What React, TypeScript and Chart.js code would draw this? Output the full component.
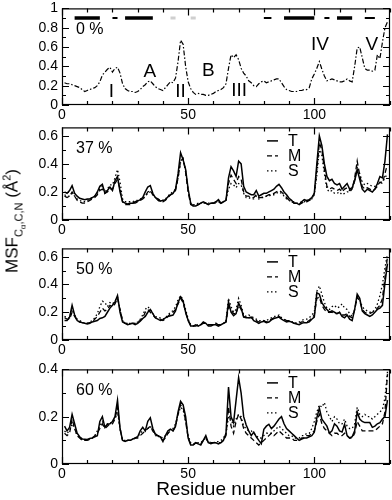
import React, { useEffect, useRef } from "react";
import { Chart, registerables } from "chart.js";

Chart.register(...registerables);

const FONT = "'Liberation Sans', Arial, Helvetica, sans-serif";
Chart.defaults.font.family = FONT;
Chart.defaults.color = "#000";

// ---------- DATA ----------
const residues: number[] = Array.from({ length: 129 }, (_, i) => i + 1);

const panelTitles = ["0 %", "37 %", "50 %", "60 %"];
const panelYMax = [1, 0.66, 0.66, 0.4];
const seriesNames = ["T", "M", "S"];
const xLabelTicks = [0, 50, 100];

// 0 % (single profile)
const msf0 = [
  0.23, 0.22, 0.22, 0.21, 0.2, 0.19, 0.18, 0.16, 0.14, 0.15,
  0.16, 0.17, 0.18, 0.2, 0.24, 0.31, 0.34, 0.37, 0.39, 0.34,
  0.38, 0.39, 0.33, 0.22, 0.17, 0.15, 0.14, 0.14, 0.13, 0.14,
  0.16, 0.19, 0.21, 0.24, 0.25, 0.22, 0.19, 0.17, 0.16, 0.15,
  0.18, 0.21, 0.24, 0.23, 0.28, 0.45, 0.67, 0.63, 0.4, 0.24,
  0.17, 0.13, 0.11, 0.12, 0.11, 0.11, 0.1, 0.1, 0.11, 0.12,
  0.14, 0.15, 0.16, 0.18, 0.22, 0.38, 0.52, 0.49, 0.52, 0.47,
  0.38, 0.33, 0.3, 0.25, 0.23, 0.2, 0.19, 0.22, 0.24, 0.25,
  0.23, 0.24, 0.25, 0.26, 0.27, 0.27, 0.23, 0.19, 0.16, 0.15,
  0.14, 0.14, 0.14, 0.15, 0.15, 0.16, 0.16, 0.18, 0.27, 0.32,
  0.38, 0.45, 0.37, 0.3, 0.25, 0.26, 0.27, 0.26, 0.25, 0.24,
  0.24, 0.25, 0.27, 0.25, 0.24, 0.4, 0.59, 0.6, 0.49, 0.38,
  0.36, 0.36, 0.35, 0.36, 0.52, 0.48, 0.65, 0.8, 0.86,
];

// 37 %
const msf37T = [
  0.2, 0.19, 0.21, 0.245, 0.19, 0.17, 0.155, 0.15, 0.145, 0.15,
  0.15, 0.16, 0.17, 0.2, 0.24, 0.255, 0.19, 0.21, 0.235, 0.21,
  0.28, 0.31, 0.2, 0.13, 0.12, 0.115, 0.12, 0.12, 0.13, 0.135,
  0.145, 0.16, 0.2, 0.235, 0.245, 0.19, 0.16, 0.15, 0.135, 0.14,
  0.145, 0.165, 0.18, 0.19, 0.22, 0.33, 0.48, 0.43, 0.36, 0.22,
  0.12, 0.1, 0.1, 0.11, 0.12, 0.13, 0.12, 0.11, 0.12, 0.12,
  0.13, 0.145, 0.12, 0.13, 0.14, 0.3, 0.38, 0.35, 0.31, 0.42,
  0.4, 0.24, 0.2, 0.19, 0.18, 0.18, 0.21, 0.17, 0.18, 0.19,
  0.19, 0.2, 0.21, 0.22, 0.24, 0.255, 0.23, 0.2, 0.18, 0.155,
  0.14, 0.12, 0.12, 0.11, 0.13, 0.145, 0.14, 0.145, 0.16, 0.19,
  0.4, 0.6, 0.53, 0.4, 0.31, 0.28, 0.29, 0.26, 0.25, 0.26,
  0.22, 0.24, 0.26, 0.22, 0.23, 0.28, 0.36, 0.29, 0.22, 0.2,
  0.22, 0.21, 0.2, 0.22, 0.26, 0.31, 0.3, 0.42, 0.61,
];
const msf37M = [
  0.17, 0.16, 0.17, 0.2, 0.17, 0.14, 0.13, 0.12, 0.12, 0.13,
  0.14, 0.15, 0.16, 0.18, 0.21, 0.22, 0.19, 0.2, 0.22, 0.22,
  0.26, 0.29, 0.22, 0.13, 0.11, 0.11, 0.11, 0.12, 0.12, 0.13,
  0.14, 0.15, 0.17, 0.2, 0.21, 0.18, 0.16, 0.14, 0.13, 0.13,
  0.14, 0.16, 0.18, 0.19, 0.21, 0.3, 0.42, 0.44, 0.34, 0.2,
  0.11, 0.1, 0.1, 0.11, 0.12, 0.12, 0.12, 0.11, 0.12, 0.12,
  0.12, 0.13, 0.12, 0.13, 0.14, 0.26, 0.32, 0.29, 0.26, 0.31,
  0.29, 0.2, 0.17, 0.17, 0.16, 0.16, 0.18, 0.16, 0.16, 0.17,
  0.17, 0.18, 0.18, 0.19, 0.2, 0.21, 0.2, 0.18, 0.16, 0.14,
  0.13, 0.12, 0.12, 0.11, 0.12, 0.13, 0.13, 0.14, 0.15, 0.19,
  0.36, 0.55, 0.5, 0.36, 0.24, 0.22, 0.23, 0.22, 0.21, 0.22,
  0.2, 0.22, 0.23, 0.21, 0.22, 0.3, 0.42, 0.32, 0.24, 0.22,
  0.23, 0.22, 0.21, 0.22, 0.24, 0.27, 0.26, 0.33, 0.4,
];
const msf37S = [
  0.18, 0.17, 0.17, 0.19, 0.17, 0.15, 0.14, 0.13, 0.13, 0.14,
  0.15, 0.16, 0.17, 0.19, 0.22, 0.24, 0.2, 0.22, 0.25, 0.25,
  0.3, 0.36, 0.27, 0.15, 0.13, 0.13, 0.13, 0.13, 0.14, 0.14,
  0.15, 0.15, 0.17, 0.19, 0.2, 0.18, 0.16, 0.15, 0.14, 0.14,
  0.15, 0.17, 0.19, 0.2, 0.22, 0.3, 0.41, 0.43, 0.35, 0.21,
  0.12, 0.11, 0.11, 0.12, 0.12, 0.13, 0.12, 0.12, 0.12, 0.12,
  0.13, 0.13, 0.12, 0.13, 0.14, 0.22, 0.26, 0.25, 0.23, 0.26,
  0.25, 0.19, 0.16, 0.16, 0.15, 0.15, 0.17, 0.15, 0.16, 0.16,
  0.17, 0.17, 0.18, 0.18, 0.19, 0.2, 0.19, 0.17, 0.15, 0.14,
  0.13, 0.13, 0.12, 0.12, 0.13, 0.13, 0.14, 0.14, 0.15, 0.18,
  0.32, 0.5, 0.46, 0.33, 0.22, 0.2, 0.21, 0.19, 0.19, 0.2,
  0.18, 0.19, 0.2, 0.2, 0.22, 0.28, 0.38, 0.33, 0.27, 0.25,
  0.26, 0.25, 0.24, 0.24, 0.25, 0.27, 0.27, 0.3, 0.33,
];

// 50 %
const msf50T = [
  0.14, 0.14, 0.165, 0.25, 0.18, 0.14, 0.13, 0.125, 0.12, 0.115,
  0.12, 0.13, 0.135, 0.14, 0.155, 0.16, 0.17, 0.2, 0.23, 0.25,
  0.275, 0.32, 0.2, 0.13, 0.12, 0.11, 0.115, 0.12, 0.11, 0.12,
  0.135, 0.155, 0.17, 0.2, 0.22, 0.19, 0.16, 0.15, 0.14, 0.145,
  0.16, 0.17, 0.175, 0.18, 0.21, 0.27, 0.31, 0.28, 0.2, 0.14,
  0.1, 0.1, 0.11, 0.1, 0.11, 0.13, 0.12, 0.1, 0.1, 0.11,
  0.11, 0.1, 0.11, 0.12, 0.13, 0.275, 0.2, 0.175, 0.19, 0.265,
  0.23, 0.165, 0.16, 0.16, 0.165, 0.14, 0.13, 0.12, 0.13, 0.135,
  0.125, 0.13, 0.145, 0.155, 0.16, 0.165, 0.15, 0.14, 0.13, 0.135,
  0.13, 0.12, 0.115, 0.11, 0.12, 0.125, 0.125, 0.13, 0.15, 0.165,
  0.34, 0.33, 0.27, 0.24, 0.22, 0.2, 0.21, 0.2, 0.19, 0.2,
  0.17, 0.16, 0.18, 0.15, 0.14, 0.22, 0.33, 0.3, 0.21, 0.19,
  0.18, 0.17, 0.18, 0.2, 0.22, 0.23, 0.25, 0.41, 0.55,
];
const msf50M = [
  0.16, 0.15, 0.15, 0.2, 0.17, 0.14, 0.13, 0.125, 0.12, 0.12,
  0.125, 0.13, 0.15, 0.17, 0.2, 0.23, 0.21, 0.22, 0.25, 0.24,
  0.26, 0.3, 0.22, 0.14, 0.12, 0.12, 0.12, 0.12, 0.12, 0.13,
  0.14, 0.16, 0.2, 0.22, 0.2, 0.18, 0.16, 0.15, 0.15, 0.14,
  0.15, 0.17, 0.19, 0.2, 0.22, 0.26, 0.3, 0.27, 0.2, 0.14,
  0.11, 0.1, 0.1, 0.11, 0.11, 0.12, 0.12, 0.11, 0.11, 0.11,
  0.12, 0.11, 0.11, 0.12, 0.13, 0.24, 0.22, 0.19, 0.19, 0.25,
  0.22, 0.17, 0.16, 0.16, 0.16, 0.15, 0.14, 0.13, 0.13, 0.14,
  0.13, 0.14, 0.15, 0.16, 0.16, 0.17, 0.16, 0.15, 0.14, 0.14,
  0.13, 0.12, 0.12, 0.12, 0.13, 0.13, 0.13, 0.14, 0.16, 0.18,
  0.3, 0.31, 0.25, 0.22, 0.2, 0.2, 0.2, 0.19, 0.19, 0.2,
  0.18, 0.18, 0.19, 0.17, 0.16, 0.22, 0.31, 0.28, 0.22, 0.2,
  0.19, 0.19, 0.2, 0.21, 0.23, 0.25, 0.3, 0.45, 0.6,
];
const msf50S = [
  0.17, 0.16, 0.16, 0.22, 0.18, 0.15, 0.14, 0.13, 0.12, 0.12,
  0.13, 0.14, 0.16, 0.19, 0.24, 0.28, 0.27, 0.24, 0.27, 0.26,
  0.28, 0.31, 0.22, 0.14, 0.12, 0.12, 0.12, 0.12, 0.12, 0.13,
  0.15, 0.18, 0.22, 0.24, 0.22, 0.19, 0.17, 0.16, 0.16, 0.15,
  0.16, 0.18, 0.2, 0.21, 0.24, 0.29, 0.32, 0.29, 0.22, 0.15,
  0.11, 0.1, 0.1, 0.11, 0.11, 0.12, 0.12, 0.11, 0.11, 0.11,
  0.12, 0.11, 0.11, 0.12, 0.14, 0.3, 0.24, 0.2, 0.22, 0.3,
  0.25, 0.18, 0.17, 0.18, 0.17, 0.16, 0.15, 0.14, 0.14, 0.14,
  0.14, 0.15, 0.16, 0.17, 0.17, 0.18, 0.16, 0.15, 0.14, 0.14,
  0.13, 0.13, 0.12, 0.13, 0.14, 0.15, 0.15, 0.16, 0.18, 0.2,
  0.35, 0.39, 0.33, 0.27, 0.23, 0.22, 0.24, 0.25, 0.23, 0.24,
  0.26, 0.23, 0.22, 0.19, 0.17, 0.22, 0.3, 0.29, 0.24, 0.22,
  0.21, 0.2, 0.2, 0.22, 0.26, 0.32, 0.4, 0.52, 0.62,
];

// 60 %
const msf60T = [
  0.16, 0.14, 0.155, 0.21, 0.17, 0.13, 0.115, 0.106, 0.105, 0.104,
  0.108, 0.11, 0.115, 0.12, 0.18, 0.2, 0.155, 0.168, 0.17, 0.18,
  0.2, 0.27, 0.15, 0.1, 0.095, 0.1, 0.1, 0.105, 0.11, 0.115,
  0.14, 0.155, 0.14, 0.18, 0.195, 0.15, 0.127, 0.12, 0.115, 0.095,
  0.12, 0.14, 0.147, 0.14, 0.16, 0.22, 0.265, 0.25, 0.2, 0.11,
  0.08, 0.08, 0.09, 0.085, 0.08, 0.1, 0.12, 0.09, 0.086, 0.09,
  0.09, 0.085, 0.09, 0.1, 0.13, 0.325, 0.2, 0.175, 0.27, 0.365,
  0.3, 0.2, 0.165, 0.14, 0.12, 0.135, 0.115, 0.1, 0.086, 0.147,
  0.16, 0.168, 0.15, 0.16, 0.175, 0.19, 0.2, 0.17, 0.15, 0.14,
  0.13, 0.12, 0.11, 0.1, 0.105, 0.11, 0.11, 0.115, 0.12, 0.134,
  0.195, 0.236, 0.19, 0.175, 0.16, 0.13, 0.14, 0.17, 0.16, 0.14,
  0.135, 0.168, 0.12, 0.11, 0.115, 0.14, 0.22, 0.19, 0.18, 0.175,
  0.175, 0.175, 0.155, 0.16, 0.17, 0.175, 0.19, 0.2, 0.27,
];
const msf60M = [
  0.13, 0.12, 0.13, 0.19, 0.15, 0.12, 0.11, 0.1, 0.1, 0.1,
  0.105, 0.11, 0.12, 0.13, 0.15, 0.17, 0.15, 0.16, 0.17, 0.17,
  0.19, 0.24, 0.15, 0.1, 0.095, 0.1, 0.1, 0.1, 0.11, 0.11,
  0.12, 0.13, 0.14, 0.15, 0.16, 0.14, 0.12, 0.12, 0.11, 0.1,
  0.11, 0.13, 0.14, 0.14, 0.16, 0.21, 0.25, 0.24, 0.18, 0.11,
  0.085, 0.08, 0.09, 0.085, 0.085, 0.1, 0.11, 0.09, 0.09, 0.09,
  0.09, 0.09, 0.09, 0.1, 0.12, 0.24, 0.16, 0.13, 0.18, 0.21,
  0.19, 0.15, 0.13, 0.12, 0.11, 0.1, 0.09, 0.08, 0.09, 0.1,
  0.11, 0.12, 0.13, 0.12, 0.13, 0.14, 0.13, 0.12, 0.11, 0.11,
  0.11, 0.1, 0.1, 0.1, 0.11, 0.11, 0.12, 0.12, 0.13, 0.14,
  0.18, 0.21, 0.17, 0.15, 0.14, 0.13, 0.12, 0.13, 0.13, 0.12,
  0.12, 0.13, 0.12, 0.11, 0.11, 0.13, 0.18, 0.16, 0.14, 0.14,
  0.14, 0.14, 0.14, 0.14, 0.15, 0.16, 0.17, 0.22, 0.38,
];
const msf60S = [
  0.14, 0.13, 0.14, 0.17, 0.15, 0.12, 0.11, 0.105, 0.1, 0.1,
  0.105, 0.11, 0.12, 0.14, 0.16, 0.18, 0.16, 0.17, 0.17, 0.18,
  0.19, 0.22, 0.15, 0.1, 0.1, 0.1, 0.1, 0.105, 0.11, 0.115,
  0.13, 0.14, 0.14, 0.15, 0.16, 0.14, 0.125, 0.12, 0.115, 0.11,
  0.12, 0.13, 0.15, 0.15, 0.17, 0.21, 0.24, 0.23, 0.18, 0.12,
  0.09, 0.085, 0.09, 0.09, 0.09, 0.1, 0.11, 0.095, 0.09, 0.09,
  0.095, 0.095, 0.1, 0.11, 0.13, 0.2, 0.19, 0.16, 0.19, 0.21,
  0.2, 0.16, 0.15, 0.14, 0.14, 0.13, 0.12, 0.11, 0.11, 0.12,
  0.13, 0.13, 0.13, 0.14, 0.15, 0.16, 0.15, 0.14, 0.13, 0.12,
  0.12, 0.11, 0.11, 0.11, 0.12, 0.12, 0.13, 0.13, 0.15, 0.18,
  0.22, 0.25, 0.24, 0.26, 0.22, 0.2, 0.18, 0.2, 0.19, 0.17,
  0.17, 0.19, 0.16, 0.15, 0.15, 0.17, 0.24, 0.21, 0.2, 0.21,
  0.2, 0.2, 0.19, 0.2, 0.21, 0.22, 0.23, 0.28, 0.39,
];

const panelSeries: number[][][] = [
  [msf0],
  [msf37T, msf37M, msf37S],
  [msf50T, msf50M, msf50S],
  [msf60T, msf60M, msf60S],
];

// secondary structure (residue ranges) drawn at the top of the 0 % panel
const ssLevel = 0.9;
const helixStart = [5, 25, 88, 109];
const helixEnd = [15, 36, 100, 115];
const turnStart = [20, 80, 104, 120];
const turnEnd = [22, 83, 106, 124];
const sheetStart = [43, 51];
const sheetEnd = [45, 53];

// region labels in the 0 % panel
const regionText = ["I", "II", "III", "IV", "V", "A", "B"];
const regionX = [19.6, 47, 70.2, 102.2, 122.8, 34.8, 58];
const regionY = [0.135, 0.135, 0.15, 0.626, 0.626, 0.345, 0.354];

// ---------- LAYOUT ----------
const W = 392;
const PLOT_TOP = [6, 125, 246, 367];
const PLOT_BOTTOM = [105, 220, 340, 464];
const PAD_T = 10;
const X_AXIS_H = 22;
const Y_AXIS_W = 62;

const seriesDash: number[][] = [[], [5, 3], [1.5, 2.5]];
const seriesWidth = [1.5, 1.3, 1.3];

function yLabel(v: number): string {
  const r = Math.round(v * 10);
  if (r % 2 !== 0) return "";
  if (r === 0) return "0";
  if (r === 10) return "1";
  return (r / 10).toFixed(1);
}

function makeFramePlugin() {
  return {
    id: "frameTicks",
    afterDatasetsDraw(chart: any) {
      const { ctx, chartArea: a, scales } = chart;
      const xs = scales.x;
      const ys = scales.y;
      ctx.save();
      ctx.strokeStyle = "#000";
      ctx.lineWidth = 1.2;
      ctx.setLineDash([]);
      ctx.strokeRect(a.left + 0.5, a.top + 0.5, a.right - a.left - 1, a.bottom - a.top - 1);
      ctx.beginPath();
      xs.ticks.forEach((t: any) => {
        const px = Math.round(xs.getPixelForValue(t.value)) + 0.5;
        const L = t.value % 50 === 0 ? 7 : 4;
        ctx.moveTo(px, a.bottom);
        ctx.lineTo(px, a.bottom - L);
        ctx.moveTo(px, a.top);
        ctx.lineTo(px, a.top + L);
      });
      ys.ticks.forEach((t: any) => {
        const py = Math.round(ys.getPixelForValue(t.value)) + 0.5;
        const L = Math.round(t.value * 10) % 2 === 0 ? 7 : 4;
        ctx.moveTo(a.left, py);
        ctx.lineTo(a.left + L, py);
        ctx.moveTo(a.right, py);
        ctx.lineTo(a.right - L, py);
      });
      ctx.stroke();
      ctx.restore();
    },
  };
}

function makeDecorPlugin(idx: number) {
  return {
    id: "decor",
    afterDraw(chart: any) {
      const { ctx, chartArea: a, scales } = chart;
      ctx.save();
      ctx.fillStyle = "#000";
      ctx.textBaseline = "middle";
      ctx.textAlign = "left";
      ctx.font = `16px ${FONT}`;
      ctx.fillText(panelTitles[idx], a.left + 14, a.top + 21);
      if (idx === 0) {
        ctx.font = `19px ${FONT}`;
        ctx.textAlign = "center";
        regionText.forEach((s, k) => {
          ctx.fillText(s, scales.x.getPixelForValue(regionX[k]), scales.y.getPixelForValue(regionY[k]));
        });
      } else {
        ctx.font = `16px ${FONT}`;
        seriesNames.forEach((name, k) => {
          const y = a.top + 13 + k * 15;
          ctx.strokeStyle = "#000";
          ctx.lineWidth = seriesWidth[k];
          ctx.setLineDash(seriesDash[k]);
          ctx.beginPath();
          ctx.moveTo(a.left + 205, y + 0.5);
          ctx.lineTo(a.left + 216, y + 0.5);
          ctx.stroke();
          ctx.setLineDash([]);
          ctx.textAlign = "left";
          ctx.fillText(name, a.left + 226, y + 1);
        });
      }
      ctx.restore();
    },
  };
}

function toXY(arr: number[]) {
  return residues.map((r, i) => ({ x: r, y: arr[i] }));
}

function seg(s: number, e: number) {
  return [
    { x: s, y: ssLevel },
    { x: e, y: ssLevel },
  ];
}

function buildChart(canvas: HTMLCanvasElement, idx: number) {
  const datasets: any[] = [];
  if (idx === 0) {
    datasets.push({
      label: panelTitles[0],
      data: toXY(msf0),
      borderColor: "#000",
      borderWidth: 1.2,
      borderDash: [5, 2, 1.5, 2],
      pointRadius: 0,
      fill: false,
    });
    helixStart.forEach((s, k) =>
      datasets.push({ data: seg(s, helixEnd[k]), borderColor: "#000", borderWidth: 3.5, borderCapStyle: "butt", pointRadius: 0 })
    );
    turnStart.forEach((s, k) =>
      datasets.push({ data: seg(s, turnEnd[k]), borderColor: "#000", borderWidth: 2, borderCapStyle: "butt", pointRadius: 0 })
    );
    sheetStart.forEach((s, k) =>
      datasets.push({ data: seg(s, sheetEnd[k]), borderColor: "#cfcfcf", borderWidth: 3, borderCapStyle: "butt", pointRadius: 0 })
    );
  } else {
    panelSeries[idx].forEach((arr, k) =>
      datasets.push({
        label: seriesNames[k],
        data: toXY(arr),
        borderColor: "#000",
        borderWidth: seriesWidth[k],
        borderDash: seriesDash[k],
        pointRadius: 0,
        fill: false,
      })
    );
  }

  return new Chart(canvas, {
    type: "line",
    data: { datasets },
    plugins: [makeFramePlugin(), makeDecorPlugin(idx)],
    options: {
      responsive: false,
      maintainAspectRatio: false,
      animation: false,
      layout: { padding: { top: PAD_T, right: 1, left: 0, bottom: 0 } },
      plugins: { legend: { display: false }, tooltip: { enabled: false } },
      elements: { line: { tension: 0 }, point: { radius: 0 } },
      scales: {
        x: {
          type: "linear",
          min: 0,
          max: 130,
          grid: { display: false, drawTicks: false },
          border: { display: false },
          ticks: {
            stepSize: 10,
            autoSkip: false,
            maxRotation: 0,
            padding: 2,
            color: "#000",
            font: { size: 14, family: FONT },
            callback: (v: any) => (xLabelTicks.includes(Number(v)) ? String(v) : ""),
          },
          afterFit: (s: any) => {
            s.height = X_AXIS_H;
          },
        },
        y: {
          type: "linear",
          min: 0,
          max: panelYMax[idx],
          grid: { display: false, drawTicks: false },
          border: { display: false },
          ticks: {
            stepSize: 0.1,
            includeBounds: false,
            autoSkip: false,
            padding: 4,
            color: "#000",
            font: { size: 14, family: FONT },
            callback: (v: any) => yLabel(Number(v)),
          },
          afterFit: (s: any) => {
            s.width = Y_AXIS_W;
          },
        },
      },
    } as any,
  });
}

export default function App() {
  const r0 = useRef<HTMLCanvasElement>(null);
  const r1 = useRef<HTMLCanvasElement>(null);
  const r2 = useRef<HTMLCanvasElement>(null);
  const r3 = useRef<HTMLCanvasElement>(null);
  const refs = [r0, r1, r2, r3];

  useEffect(() => {
    const charts = refs.map((r, i) => buildChart(r.current as HTMLCanvasElement, i));
    return () => charts.forEach((c) => c.destroy());
  }, []);

  return (
    <div
      style={{
        position: "absolute",
        left: 0,
        top: 0,
        width: W,
        height: 500,
        background: "#fff",
        fontFamily: FONT,
        color: "#000",
        overflow: "hidden",
      }}
    >
      {PLOT_TOP.map((t, i) => {
        const h = PLOT_BOTTOM[i] - t + PAD_T + X_AXIS_H;
        return (
          <canvas
            key={i}
            ref={refs[i]}
            width={W}
            height={h}
            style={{ position: "absolute", left: 0, top: t - PAD_T, width: W, height: h }}
          />
        );
      })}
      <div
        style={{
          position: "absolute",
          left: 14,
          top: 221,
          transform: "translate(-50%, -50%) rotate(-90deg)",
          whiteSpace: "nowrap",
          fontSize: 17,
          lineHeight: "20px",
        }}
      >
        MSF
        <span style={{ fontSize: 11, position: "relative", top: 5 }}>
          C<span style={{ fontSize: 8, position: "relative", top: 3 }}>α</span>,C,N
        </span>
        {" "}(Å<span style={{ fontSize: 11, position: "relative", top: -7 }}>2</span>)
      </div>
      <div
        style={{
          position: "absolute",
          left: 226,
          top: 489,
          transform: "translate(-50%, -50%)",
          whiteSpace: "nowrap",
          fontSize: 19,
          lineHeight: "20px",
        }}
      >
        Residue number
      </div>
    </div>
  );
}
